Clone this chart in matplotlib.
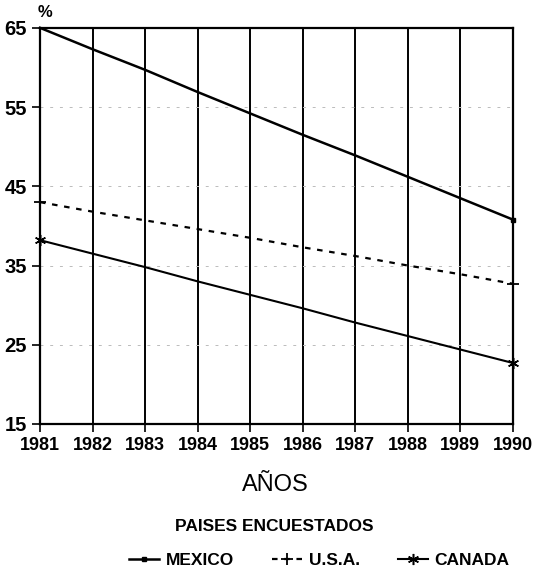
import matplotlib
matplotlib.use("Agg")
from matplotlib import pyplot as plt

# porcentaje por pais, 1981-1990
years = [1981, 1982, 1983, 1984, 1985, 1986, 1987, 1988, 1989, 1990]
mexico = [65.0, 62.3, 59.7, 56.9, 54.2, 51.5, 48.9, 46.2, 43.5, 40.8]
usa = [43.0, 41.8, 40.7, 39.6, 38.5, 37.3, 36.2, 35.0, 33.9, 32.7]
canada = [38.2, 36.5, 34.8, 33.0, 31.3, 29.6, 27.8, 26.1, 24.4, 22.7]
yticks = [15, 25, 35, 45, 55, 65]

plt.rcParams['font.family'] = ['Liberation Sans', 'DejaVu Sans']

fig = plt.figure(figsize=(5.37, 5.8), dpi=100)
ax = fig.add_axes([0.0745, 0.269, 0.8805, 0.683])

# rejilla: verticales solidas, horizontales punteadas tenues
for y in years:
    ax.axvline(y, color='black', lw=1.4, zorder=1)
for v in yticks[1:-1]:
    ax.axhline(v, color='#bbbbbb', lw=0.7, ls=(0, (3, 7)), zorder=1)

l1, = ax.plot(years, mexico, color='black', lw=1.8, marker='s', markersize=3,
              markevery=[-1], label='MEXICO', zorder=3, clip_on=False)
l2, = ax.plot(years, usa, color='black', lw=1.6, ls=(0, (2.5, 3)), marker='+',
              markersize=9, markeredgewidth=1.3, markevery=[0, -1], label='U.S.A.',
              zorder=3, clip_on=False)
l3, = ax.plot(years, canada, color='black', lw=1.5, marker=(6, 2, 0), markersize=8,
              markeredgewidth=1.1, markevery=[0, -1], label='CANADA', zorder=3,
              clip_on=False)

ax.set_xlim(1981, 1990)
ax.set_ylim(15, 65)
ax.set_xticks(years)
ax.set_yticks(yticks)
ax.tick_params(axis='both', direction='out', length=6, width=1.2, labelsize=13)
ax.tick_params(axis='y', labelsize=14.5)
for lab in ax.get_xticklabels() + ax.get_yticklabels():
    lab.set_fontweight('bold')
for s in ax.spines.values():
    s.set_linewidth(1.6)

fig.text(0.083, 0.978, '%', fontsize=12, fontweight='bold', ha='center', va='center')
fig.text(0.512, 0.163, 'AÑOS', fontsize=17, ha='center', va='center')
fig.text(0.51, 0.092, 'PAISES ENCUESTADOS', fontsize=12.5, fontweight='bold',
         ha='center', va='center')

fig.legend(handles=[l1, l2, l3], loc='center', bbox_to_anchor=(0.595, 0.034),
           ncol=3, frameon=False, prop={'size': 12.5, 'weight': 'bold'},
           handlelength=1.7, handletextpad=0.4, columnspacing=2.2)

fig.savefig('out.png', dpi=100)
